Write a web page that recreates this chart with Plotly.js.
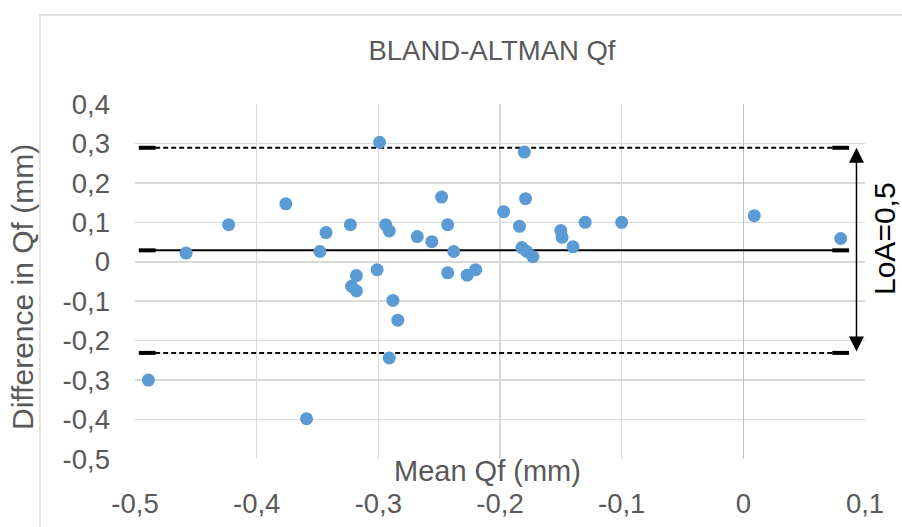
<!DOCTYPE html>
<html>
<head>
<meta charset="utf-8">
<script src="https://cdn.plot.ly/plotly-3.0.1.min.js"></script>
<style>
html, body { margin: 0; padding: 0; background: #ffffff; }
#chart { width: 902px; height: 527px; }
</style>
</head>
<body>
<div id="chart"></div>
<script>
// ---- data ----
const meanQf = [
  -0.489, -0.458, -0.423, -0.376, -0.359, -0.348, -0.343, -0.323, -0.322, -0.318,
  -0.318, -0.301, -0.299, -0.294, -0.291, -0.291, -0.288, -0.284, -0.268, -0.256,
  -0.248, -0.243, -0.243, -0.238, -0.227, -0.220, -0.197, -0.184, -0.182, -0.180,
  -0.179, -0.178, -0.173, -0.150, -0.149, -0.140, -0.130, -0.100, 0.009, 0.080
];
const diffQf = [
  -0.300, 0.022, 0.094, 0.147, -0.398, 0.026, 0.074, 0.094, -0.062, -0.074,
  -0.035, -0.020, 0.303, 0.094, 0.078, -0.244, -0.098, -0.148, 0.064, 0.051,
  0.164, 0.094, -0.028, 0.026, -0.034, -0.020, 0.127, 0.090, 0.036, 0.278,
  0.160, 0.026, 0.013, 0.079, 0.062, 0.038, 0.100, 0.100, 0.117, 0.059
];
const lineX = [-0.49, 0.08];
const meanDiff = 0.029;
const upperLoA = 0.289;
const lowerLoA = -0.231;
const arrowX = 0.093;
const xTickVals = [-0.5, -0.4, -0.3, -0.2, -0.1, 0, 0.1];
const xTickText = ['-0,5', '-0,4', '-0,3', '-0,2', '-0,1', '0', '0,1'];
const yTickVals = [-0.5, -0.4, -0.3, -0.2, -0.1, 0, 0.1, 0.2, 0.3, 0.4];
const yTickText = ['-0,5', '-0,4', '-0,3', '-0,2', '-0,1', '0', '0,1', '0,2', '0,3', '0,4'];
const titleText = 'BLAND-ALTMAN Qf';
const xTitle = 'Mean Qf (mm)';
const yTitle = 'Difference in Qf (mm)';
const loaText = 'LoA=0,5';

// ---- drawing ----
const FONT = 'Liberation Sans, Arial, sans-serif';
const GRAY = '#595959';

function refLine(yv, dash) {
  return {
    x: lineX, y: [yv, yv], type: 'scatter', mode: 'lines+markers',
    line: { color: '#000000', width: 2, dash: dash ? '5px,3px' : 'solid' },
    marker: { symbol: 'line-ew', size: 12, line: { color: '#000000', width: 4 } },
    hoverinfo: 'skip', showlegend: false
  };
}

const traces = [
  refLine(upperLoA, true),
  refLine(lowerLoA, true),
  refLine(meanDiff, false),
  {
    x: meanQf, y: diffQf, type: 'scatter', mode: 'markers',
    marker: { color: '#5b9bd5', size: 13, line: { width: 0 } },
    showlegend: false
  }
];

const L = 135, R = 865, T = 104, B = 459;
const W = R - L, H = B - T;
const px = v => (v - L) / W;
const py = v => (B - v) / H;

const layout = {
  width: 902, height: 527,
  margin: { l: L, r: 902 - R, t: T, b: 527 - B, pad: 0 },
  paper_bgcolor: '#ffffff', plot_bgcolor: '#ffffff',
  showlegend: false,
  title: {
    text: titleText,
    font: { family: FONT, size: 27.5, color: GRAY },
    x: 492 / 902, xanchor: 'center', xref: 'container',
    y: 1 - 50 / 527, yanchor: 'middle', yref: 'container'
  },
  xaxis: {
    range: [-0.5, 0.1], tickvals: xTickVals, ticktext: xTickText,
    showgrid: true, gridcolor: '#d9d9d9', gridwidth: 1.5,
    zeroline: true, zerolinecolor: '#bfbfbf', zerolinewidth: 1.5,
    showline: false, ticks: '',
    tickfont: { family: FONT, size: 27.5, color: GRAY },
    ticklabelstandoff: 25, fixedrange: true
  },
  yaxis: {
    range: [-0.5, 0.4], tickvals: yTickVals, ticktext: yTickText,
    showgrid: true, gridcolor: '#d9d9d9', gridwidth: 1.5,
    zeroline: false, showline: false, ticks: '',
    tickfont: { family: FONT, size: 27.5, color: GRAY },
    ticklabelstandoff: 24, fixedrange: true
  },
  shapes: [
    { type: 'rect', xref: 'paper', yref: 'paper', layer: 'below',
      x0: px(40), x1: px(920), y0: py(545), y1: py(15),
      line: { color: '#d9d9d9', width: 1.5 }, fillcolor: 'rgba(0,0,0,0)' }
  ],
  annotations: [
    { x: arrowX, y: upperLoA, ax: arrowX, ay: lowerLoA, xref: 'x', yref: 'y', axref: 'x', ayref: 'y',
      text: '', showarrow: true, arrowhead: 2, startarrowhead: 2, arrowside: 'end+start',
      arrowsize: 2, startarrowsize: 2, arrowwidth: 1.5, arrowcolor: '#000000',
      standoff: 0, startstandoff: 0 },
    { x: px(884), y: py(239), xref: 'paper', yref: 'paper', text: loaText, textangle: -90,
      showarrow: false, xanchor: 'center', yanchor: 'middle',
      font: { family: FONT, size: 30, color: '#000000' } },
    { x: px(487), y: py(471), xref: 'paper', yref: 'paper', text: xTitle,
      showarrow: false, xanchor: 'center', yanchor: 'middle',
      font: { family: FONT, size: 29, color: GRAY } },
    { x: px(22), y: py(287), xref: 'paper', yref: 'paper', text: yTitle, textangle: -90,
      showarrow: false, xanchor: 'center', yanchor: 'middle',
      font: { family: FONT, size: 30, color: GRAY } }
  ]
};

Plotly.newPlot('chart', traces, layout, { staticPlot: true, displayModeBar: false });
</script>
</body>
</html>
